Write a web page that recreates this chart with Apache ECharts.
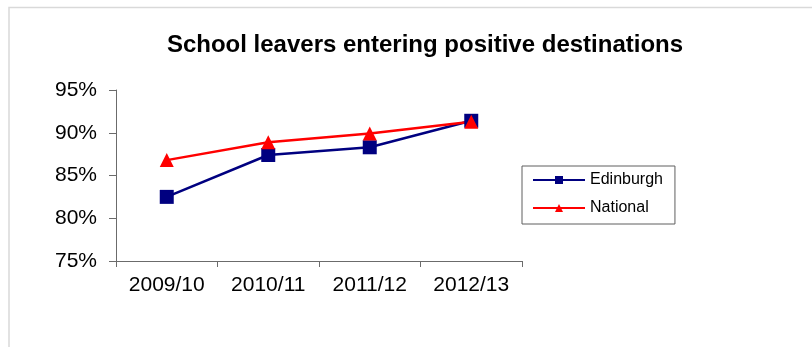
<!DOCTYPE html>
<html>
<head>
<meta charset="utf-8">
<script src="https://cdn.jsdelivr.net/npm/echarts@6/dist/echarts.min.js"></script>
<style>
  html, body { margin: 0; padding: 0; background: #fff; }
  #chart { width: 812px; height: 347px; }
</style>
</head>
<body>
<div id="chart"></div>
<script>
// School years on the category axis
const years = ['2009/10', '2010/11', '2011/12', '2012/13'];
// Share of school leavers entering positive destinations (%)
const edinburgh = [82.5, 87.4, 88.3, 91.4];
const national = [86.8, 88.9, 89.9, 91.3];
// Value axis range and step (%)
const yMin = 75;
const yMax = 95;
const yStep = 5;

const font = '"Liberation Sans", Arial, sans-serif';
const axisGray = '#6b6b6b';

const chart = echarts.init(document.getElementById('chart'), null, { renderer: 'canvas' });

chart.setOption({
  animation: false,
  backgroundColor: '#ffffff',
  graphic: [{
    type: 'rect',
    shape: { x: 9, y: 7.5, width: 900, height: 500 },
    style: { fill: 'none', stroke: '#d9d9d9', lineWidth: 1.5 },
    silent: true
  }],
  title: {
    text: 'School leavers entering positive destinations',
    left: 420,
    top: 28,
    textAlign: 'center',
    textStyle: { fontFamily: font, fontWeight: 'bold', fontSize: 24, color: '#000' }
  },
  grid: { left: 116, right: 290, top: 90, bottom: 86, containLabel: false },
  legend: {
    orient: 'vertical',
    left: 522,
    top: 166,
    padding: [6, 12, 8, 10],
    itemWidth: 52,
    itemHeight: 10,
    itemGap: 12,
    borderColor: '#5f5f5f',
    borderWidth: 1,
    textStyle: { fontFamily: font, fontSize: 16, color: '#000' },
    data: ['Edinburgh', 'National']
  },
  xAxis: {
    type: 'category',
    data: years,
    boundaryGap: true,
    axisLine: { lineStyle: { color: axisGray, width: 1 } },
    axisTick: { show: true, length: 6, lineStyle: { color: axisGray } },
    axisLabel: { fontFamily: font, fontSize: 21, color: '#000', margin: 14 },
    splitLine: { show: false }
  },
  yAxis: {
    type: 'value',
    min: yMin,
    max: yMax,
    interval: yStep,
    axisLine: { show: true, lineStyle: { color: axisGray, width: 1 } },
    axisTick: { show: true, length: 7, lineStyle: { color: axisGray } },
    axisLabel: { fontFamily: font, fontSize: 21, color: '#000', margin: 19, formatter: '{value}%' },
    splitLine: { show: false }
  },
  series: [
    {
      name: 'Edinburgh',
      type: 'line',
      data: edinburgh,
      symbol: 'rect',
      symbolSize: 14,
      color: '#000080',
      lineStyle: { color: '#000080', width: 2.5 },
      itemStyle: { color: '#000080' }
    },
    {
      name: 'National',
      type: 'line',
      data: national,
      symbol: 'triangle',
      symbolSize: 14,
      color: '#ff0000',
      lineStyle: { color: '#ff0000', width: 2.5 },
      itemStyle: { color: '#ff0000' }
    }
  ]
});
</script>
</body>
</html>
